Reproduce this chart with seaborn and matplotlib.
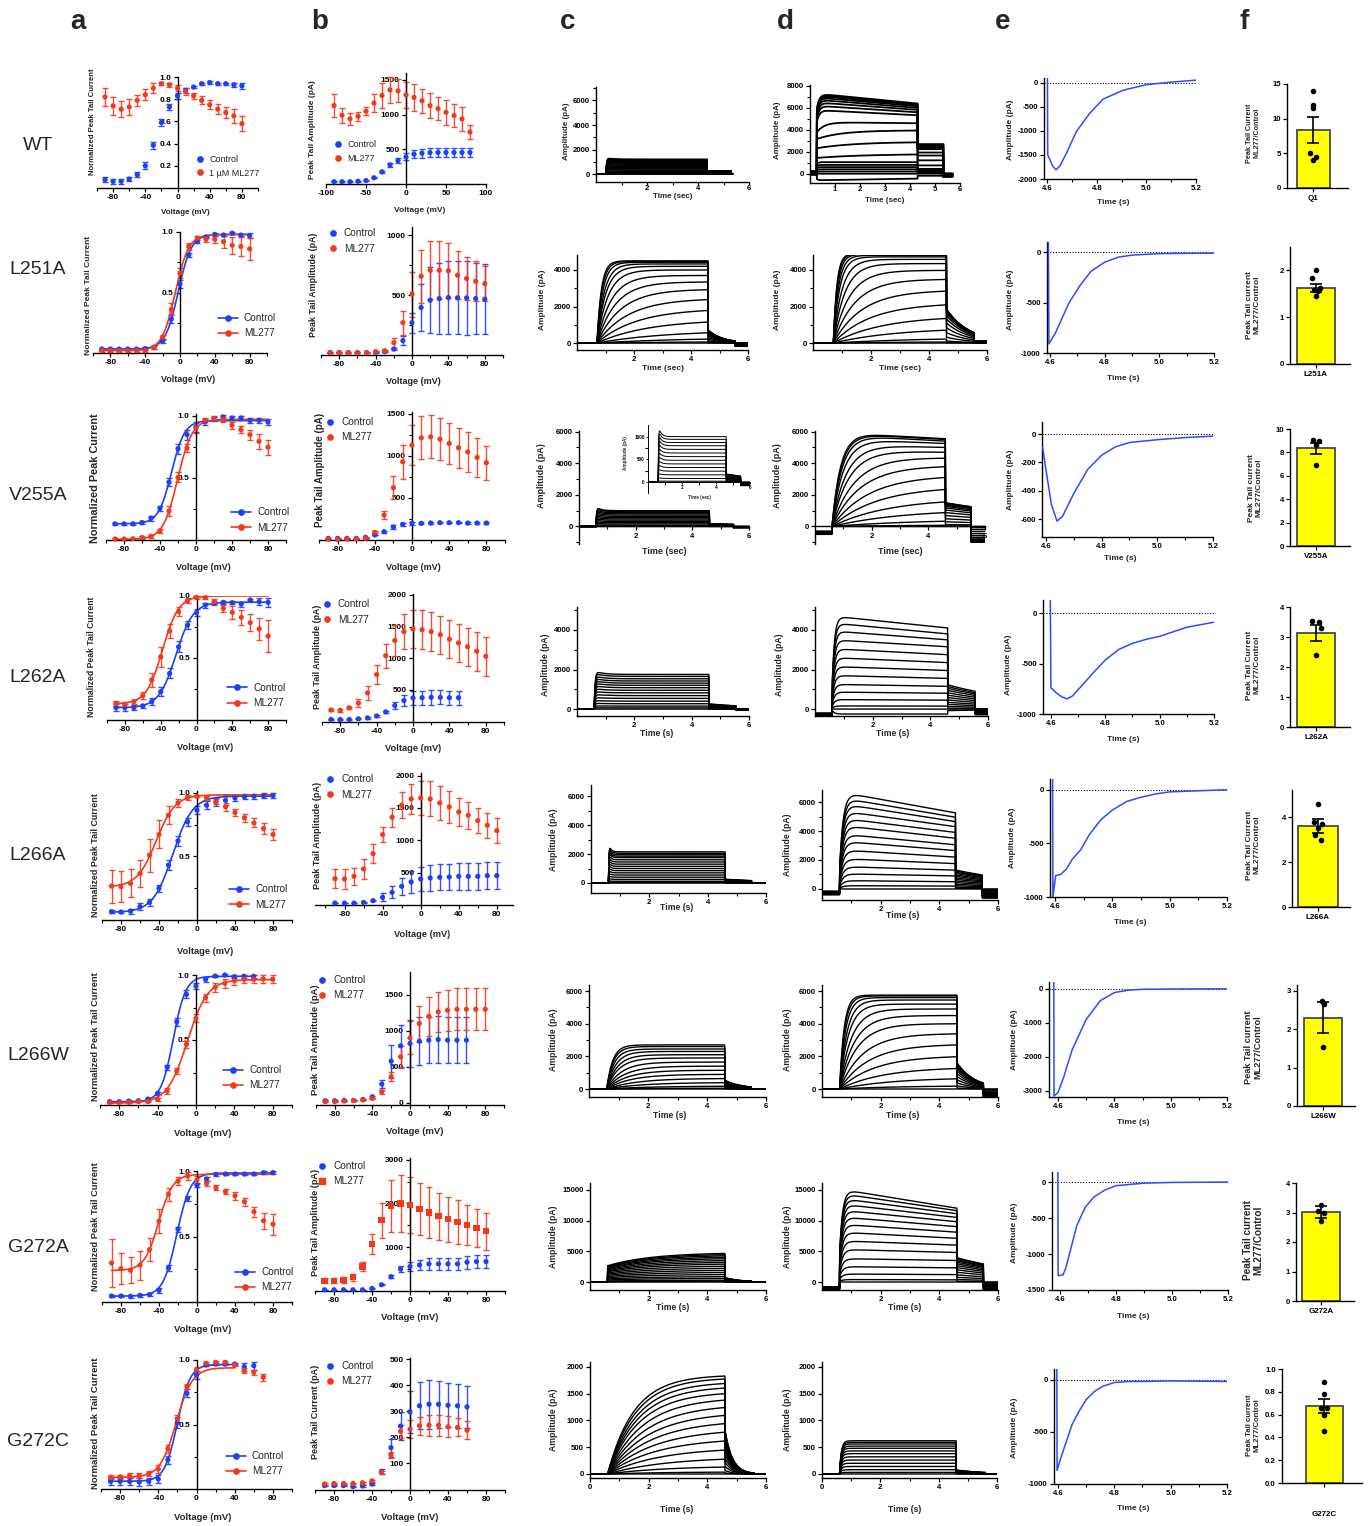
import numpy as np
import matplotlib
matplotlib.use("Agg")
import matplotlib.pyplot as plt
from matplotlib.lines import Line2D
from matplotlib.ticker import FixedLocator, FormatStrFormatter
import seaborn as sns

# ===================== DATA =====================
ROW_NAMES = ["WT", "L251A", "V255A", "L262A", "L266A", "L266W", "G272A", "G272C"]
V18 = [-90, -80, -70, -60, -50, -40, -30, -20, -10, 0, 10, 20, 30, 40, 50, 60, 70, 80]
V17 = V18[:17]
V16 = V18[:16]
V15 = V18[:15]

# ---- column a : normalized peak tail current (mean, SEM) ----
A_WT_C = [0.075, 0.06, 0.06, 0.08, 0.12, 0.20, 0.385, 0.59, 0.73, 0.83, 0.88, 0.91, 0.94, 0.95, 0.94, 0.94, 0.93, 0.92]
A_WT_C_SEM = [0.02, 0.02, 0.02, 0.02, 0.02, 0.03, 0.03, 0.03, 0.03, 0.03, 0.02, 0.01, 0.01, 0.01, 0.01, 0.01, 0.02, 0.03]
A_WT_M = [0.82, 0.74, 0.71, 0.73, 0.79, 0.84, 0.90, 0.94, 0.93, 0.90, 0.87, 0.83, 0.79, 0.75, 0.71, 0.68, 0.65, 0.58]
A_WT_M_SEM = [0.085, 0.08, 0.07, 0.07, 0.05, 0.05, 0.045, 0.015, 0.02, 0.025, 0.03, 0.03, 0.035, 0.04, 0.045, 0.05, 0.06, 0.07]

A_L251A_C = [0.033, 0.033, 0.033, 0.033, 0.033, 0.036, 0.047, 0.10, 0.28, 0.57, 0.81, 0.92, 0.96, 0.98, 0.975, 0.99, 0.975, 0.97]
A_L251A_C_SEM = [0.01, 0.01, 0.01, 0.01, 0.01, 0.01, 0.01, 0.015, 0.03, 0.03, 0.02, 0.015, 0.01, 0.01, 0.01, 0.01, 0.01, 0.02]
A_L251A_M = [0.02, 0.02, 0.02, 0.02, 0.02, 0.02, 0.047, 0.13, 0.36, 0.66, 0.88, 0.95, 0.94, 0.94, 0.92, 0.89, 0.88, 0.86]
A_L251A_M_SEM = [0.01, 0.01, 0.01, 0.01, 0.01, 0.01, 0.01, 0.02, 0.05, 0.04, 0.03, 0.02, 0.02, 0.03, 0.05, 0.07, 0.08, 0.09]

A_V255A_C = [0.13, 0.13, 0.13, 0.14, 0.175, 0.255, 0.465, 0.734, 0.847, 0.909, 0.949, 0.973, 0.989, 0.981, 0.981, 0.962, 0.962, 0.949]
A_V255A_C_SEM = [0.01, 0.01, 0.01, 0.01, 0.02, 0.02, 0.03, 0.04, 0.04, 0.04, 0.025, 0.02, 0.015, 0.015, 0.015, 0.02, 0.02, 0.025]
A_V255A_M = [0.008, 0.008, 0.01, 0.02, 0.03, 0.073, 0.234, 0.503, 0.739, 0.90, 0.962, 0.976, 0.968, 0.922, 0.887, 0.847, 0.793, 0.747]
A_V255A_M_SEM = [0.005, 0.005, 0.005, 0.01, 0.01, 0.015, 0.04, 0.04, 0.03, 0.04, 0.015, 0.015, 0.02, 0.03, 0.03, 0.04, 0.06, 0.06]

A_L262A_C = [0.10, 0.10, 0.10, 0.113, 0.148, 0.228, 0.376, 0.59, 0.766, 0.866, 0.927, 0.946, 0.949, 0.946, 0.935, 0.968, 0.954, 0.949]
A_L262A_C_SEM = [0.03, 0.025, 0.02, 0.02, 0.03, 0.035, 0.04, 0.045, 0.035, 0.03, 0.02, 0.015, 0.01, 0.01, 0.02, 0.01, 0.03, 0.035]
A_L262A_M = [0.134, 0.126, 0.148, 0.196, 0.323, 0.51, 0.718, 0.874, 0.962, 0.989, 0.987, 0.954, 0.90, 0.868, 0.828, 0.785, 0.734, 0.677]
A_L262A_M_SEM = [0.02, 0.02, 0.015, 0.03, 0.055, 0.08, 0.06, 0.035, 0.02, 0.01, 0.01, 0.02, 0.03, 0.05, 0.06, 0.07, 0.09, 0.13]

A_L266A_C = [0.065, 0.063, 0.07, 0.105, 0.139, 0.249, 0.432, 0.623, 0.772, 0.864, 0.903, 0.93, 0.942, 0.96, 0.969, 0.974, 0.976, 0.979]
A_L266A_C_SEM = [0.01, 0.01, 0.02, 0.025, 0.03, 0.03, 0.04, 0.04, 0.03, 0.03, 0.03, 0.03, 0.04, 0.02, 0.02, 0.02, 0.02, 0.02]
A_L266A_M = [0.267, 0.262, 0.288, 0.366, 0.51, 0.673, 0.825, 0.921, 0.963, 0.974, 0.963, 0.929, 0.89, 0.846, 0.804, 0.764, 0.72, 0.673]
A_L266A_M_SEM = [0.13, 0.12, 0.11, 0.11, 0.13, 0.11, 0.07, 0.03, 0.02, 0.01, 0.015, 0.02, 0.03, 0.03, 0.03, 0.035, 0.04, 0.04]

A_L266W_C = [0.026, 0.026, 0.03, 0.033, 0.046, 0.09, 0.29, 0.641, 0.851, 0.915, 0.967, 0.992, 1.0, 0.987, 0.99, 0.99]
A_L266W_C_SEM = [0.005, 0.005, 0.005, 0.005, 0.01, 0.01, 0.02, 0.03, 0.03, 0.025, 0.02, 0.01, 0.01, 0.01, 0.01, 0.01]
A_L266W_M = [0.018, 0.018, 0.02, 0.026, 0.026, 0.044, 0.108, 0.262, 0.467, 0.667, 0.826, 0.905, 0.936, 0.956, 0.967, 0.967, 0.97, 0.967]
A_L266W_M_SEM = [0.005, 0.005, 0.005, 0.005, 0.005, 0.01, 0.02, 0.025, 0.025, 0.03, 0.03, 0.035, 0.035, 0.03, 0.03, 0.03, 0.03, 0.03]

A_G272A_C = [0.046, 0.046, 0.043, 0.051, 0.056, 0.089, 0.26, 0.556, 0.79, 0.893, 0.939, 0.974, 0.977, 0.977, 0.977, 0.977, 0.987, 0.987]
A_G272A_C_SEM = [0.01, 0.01, 0.01, 0.01, 0.01, 0.02, 0.02, 0.02, 0.02, 0.015, 0.015, 0.01, 0.01, 0.01, 0.01, 0.01, 0.01, 0.01]
A_G272A_M = [0.298, 0.255, 0.242, 0.281, 0.40, 0.617, 0.824, 0.923, 0.962, 0.931, 0.906, 0.872, 0.842, 0.811, 0.765, 0.689, 0.62, 0.594]
A_G272A_M_SEM = [0.18, 0.12, 0.10, 0.11, 0.09, 0.09, 0.05, 0.03, 0.03, 0.03, 0.02, 0.02, 0.02, 0.03, 0.03, 0.04, 0.06, 0.08]

A_G272C_C = [0.059, 0.059, 0.059, 0.054, 0.059, 0.077, 0.227, 0.515, 0.742, 0.884, 0.961, 0.969, 0.969, 0.969, 0.948, 0.956]
A_G272C_C_SEM = [0.03, 0.03, 0.03, 0.03, 0.03, 0.03, 0.03, 0.04, 0.03, 0.03, 0.01, 0.01, 0.01, 0.01, 0.03, 0.03]
A_G272C_M = [0.09, 0.093, 0.103, 0.103, 0.119, 0.155, 0.312, 0.541, 0.794, 0.923, 0.974, 0.982, 0.982, 0.961, 0.918, 0.905, 0.866]
A_G272C_M_SEM = [0.015, 0.015, 0.02, 0.02, 0.02, 0.03, 0.03, 0.03, 0.02, 0.02, 0.01, 0.01, 0.01, 0.01, 0.02, 0.02, 0.025]

# Boltzmann fit parameters: bottom, top, V1/2 (mV), slope k (mV)
FIT_L251A_C = [0.033, 0.98, -2.0, 7.5]
FIT_L251A_M = [0.02, 0.98, -5.4, 7.7]
FIT_V255A_C = [0.13, 0.96, -27.2, 7.3]
FIT_V255A_M = [0.005, 0.97, -20.5, 8.1]
FIT_L262A_C = [0.10, 0.95, -23.0, 9.6]
FIT_L262A_M = [0.13, 1.00, -38.0, 9.0]
FIT_L266A_C = [0.06, 0.975, -25.5, 10.5]
FIT_L266A_M = [0.26, 0.985, -43.0, 10.0]
FIT_L266W_C = [0.025, 0.99, -23.7, 6.5]
FIT_L266W_M = [0.015, 0.965, -9.0, 10.5]
FIT_G272A_C = [0.045, 0.985, -21.3, 7.2]
FIT_G272A_M = [0.24, 0.975, -40.4, 7.5]
FIT_G272C_C = [0.06, 0.965, -20.0, 6.7]
FIT_G272C_M = [0.09, 0.94, -21.3, 8.5]

# ---- column b : peak tail amplitude in pA (mean, SEM) ----
B_WT_C = [33, 33, 33, 40, 50, 90, 176, 276, 338, 390, 430, 443, 452, 455, 455, 455, 455, 455]
B_WT_C_SEM = [5, 5, 5, 5, 8, 10, 15, 30, 40, 50, 60, 65, 70, 70, 70, 70, 70, 70]
B_WT_M = [1130, 990, 940, 976, 1048, 1167, 1276, 1357, 1343, 1286, 1248, 1200, 1130, 1086, 1033, 986, 938, 748]
B_WT_M_SEM = [165, 107, 83, 67, 60, 126, 174, 183, 167, 190, 190, 176, 176, 167, 179, 167, 167, 100]

B_L251A_C = [20, 20, 20, 20, 20, 22, 28, 50, 120, 270, 397, 458, 472, 480, 478, 478, 472, 467]
B_L251A_C_SEM = [5, 5, 5, 5, 5, 5, 5, 10, 40, 83, 194, 275, 297, 305, 305, 310, 300, 295]
B_L251A_M = [20, 20, 20, 20, 20, 28, 36, 103, 270, 508, 658, 708, 708, 703, 667, 639, 617, 597]
B_L251A_M_SEM = [5, 5, 5, 5, 5, 5, 8, 42, 100, 190, 222, 243, 243, 230, 200, 180, 167, 146]

B_V255A_C = [20, 20, 20, 20, 32, 60, 99, 154, 186, 198, 198, 202, 206, 206, 206, 202, 202, 202]
B_V255A_C_SEM = [3, 3, 3, 3, 5, 5, 10, 20, 20, 15, 10, 8, 8, 8, 8, 8, 8, 8]
B_V255A_M = [8, 8, 12, 12, 20, 91, 296, 621, 929, 1126, 1213, 1225, 1198, 1146, 1095, 1047, 980, 917]
B_V255A_M_SEM = [3, 3, 3, 3, 5, 10, 50, 134, 200, 237, 257, 257, 247, 243, 237, 237, 227, 200]

B_L262A_C = [30, 30, 30, 40, 55, 85, 150, 250, 330, 370, 375, 380, 380, 375, 375]
B_L262A_C_SEM = [10, 10, 10, 10, 10, 15, 20, 60, 90, 110, 110, 115, 110, 110, 110]
B_L262A_M = [180, 175, 215, 290, 450, 740, 1040, 1280, 1420, 1460, 1450, 1420, 1370, 1300, 1240, 1180, 1110, 1030]
B_L262A_M_SEM = [20, 20, 20, 60, 110, 150, 190, 250, 280, 300, 310, 310, 300, 300, 300, 300, 310, 310]

B_L266A_C = [30, 30, 30, 40, 67, 118, 196, 289, 356, 402, 418, 428, 433, 443, 443, 443, 454, 454]
B_L266A_C_SEM = [5, 5, 5, 5, 10, 60, 90, 127, 165, 190, 200, 203, 205, 205, 205, 205, 205, 205]
B_L266A_M = [407, 402, 443, 557, 794, 1088, 1356, 1541, 1639, 1655, 1639, 1577, 1515, 1438, 1387, 1304, 1232, 1150]
B_L266A_M_SEM = [150, 150, 130, 150, 150, 120, 150, 200, 230, 260, 270, 260, 240, 220, 210, 190, 190, 190]

B_L266W_C = [28, 28, 32, 32, 46, 83, 258, 577, 789, 822, 854, 868, 877, 868, 868, 868]
B_L266W_C_SEM = [5, 5, 5, 5, 8, 15, 60, 230, 290, 323, 335, 323, 323, 323, 323, 323]
B_L266W_M = [14, 14, 23, 28, 37, 60, 152, 360, 637, 900, 1099, 1200, 1260, 1283, 1297, 1297, 1297, 1297]
B_L266W_M_SEM = [3, 3, 5, 5, 5, 10, 30, 60, 150, 230, 250, 270, 280, 285, 290, 290, 290, 290]

B_G272A_C = [23, 23, 23, 23, 23, 54, 138, 323, 500, 554, 592, 615, 615, 615, 615, 654, 669, 669]
B_G272A_C_SEM = [5, 5, 5, 5, 5, 10, 15, 30, 60, 100, 115, 130, 130, 130, 130, 150, 150, 150]
B_G272A_M = [231, 231, 246, 308, 554, 1077, 1615, 1946, 2000, 1962, 1869, 1792, 1708, 1638, 1577, 1515, 1438, 1362]
B_G272A_M_SEM = [60, 60, 60, 80, 100, 230, 400, 600, 650, 650, 600, 580, 540, 520, 500, 460, 440, 430]

B_G272C_C = [14, 14, 14, 10, 13, 20, 68, 160, 243, 298, 321, 327, 327, 323, 321, 317]
B_G272C_C_SEM = [3, 3, 3, 3, 3, 3, 8, 35, 55, 80, 90, 95, 90, 85, 85, 82]
B_G272C_M = [20, 22, 22, 22, 25, 32, 65, 132, 223, 231, 244, 246, 246, 240, 238, 227]
B_G272C_M_SEM = [3, 3, 3, 3, 3, 3, 5, 12, 25, 35, 35, 40, 40, 40, 35, 35]

# ---- columns c / d : current sweeps (end-of-step amplitude pA, peak pA, activation tau s) ----
C_WT_AMP = [1200, 1150, 1100, 1050, 1000, 940, 880, 800, 710, 620, 520, 420, 320, 220, 130, 60, 20, 0]
D_WT_AMP = [6400, 6330, 6250, 6150, 6000, 5820, 5600, 5330, 4600, 3950, 2900, 1800, 1050, 800, 600, 400, 200, 0, -450]
D_WT_PEAK = [7300, 7200, 7100, 6950, 6750, 6500, 6200, 5800, 4700, 3950, 2900, 1800, 1050, 800, 600, 400, 200, 0, -600]
D_WT_TAU = [0.1, 0.1, 0.1, 0.1, 0.1, 0.1, 0.1, 0.1, 0.3, 1.0, 1.5, 2.0, 0.05, 0.05, 0.05, 0.05, 0.05, 0.05, 0.05]

C_L251A_AMP = [4500, 4470, 4420, 4330, 4200, 4000, 3700, 3350, 2950, 2450, 1900, 1300, 700, 300, 80, 0]
C_L251A_TAU = [0.15, 0.17, 0.2, 0.25, 0.3, 0.38, 0.5, 0.65, 0.85, 1.1, 1.4, 1.8, 2.4, 3.0, 3.0, 3.0]
D_L251A_AMP = [4900, 4880, 4850, 4800, 4720, 4580, 4350, 3980, 3500, 2900, 2200, 1500, 850, 300, 80, 0]
D_L251A_TAU = [0.12, 0.13, 0.15, 0.18, 0.22, 0.3, 0.4, 0.55, 0.75, 1.0, 1.3, 1.7, 2.2, 3.0, 3.0, 3.0]

C_V255A_AMP = [1000, 940, 870, 800, 720, 640, 560, 480, 400, 320, 240, 160, 80, 20, 0]
D_V255A_AMP = [5550, 5500, 5400, 5250, 5000, 4700, 4350, 3850, 3250, 2550, 1800, 1100, 450, 100, 0]
D_V255A_PEAK = [5950, 5900, 5800, 5550, 5200, 4850, 4400, 3850, 3250, 2550, 1800, 1100, 450, 100, 0]
D_V255A_TAU = [0.3, 0.32, 0.35, 0.4, 0.5, 0.6, 0.8, 1.0, 1.3, 1.6, 2.0, 2.5, 3.0, 3.0, 3.0]

C_L262A_AMP = [1750, 1650, 1530, 1420, 1310, 1200, 1080, 950, 820, 680, 540, 400, 270, 150, 60, 0]
D_L262A_AMP = [4100, 3800, 3500, 3150, 2750, 2350, 1950, 1550, 1150, 800, 450, 150, 0, -250]
D_L262A_PEAK = [4700, 4350, 3950, 3500, 3050, 2600, 2150, 1700, 1250, 860, 480, 160, 0, -250]

C_L266A_AMP = [2150, 2050, 1950, 1850, 1750, 1600, 1450, 1300, 1150, 1000, 850, 700, 550, 400, 250, 120, 30, 0]
D_L266A_AMP = [5250, 4950, 4650, 4300, 3900, 3500, 3050, 2650, 2200, 1750, 1300, 900, 500, 200, 0]
D_L266A_PEAK = [6700, 6300, 5900, 5400, 4900, 4400, 3800, 3300, 2700, 2100, 1550, 1050, 580, 230, 0]

C_L266W_AMP = [2700, 2600, 2450, 2300, 2100, 1900, 1650, 1400, 1150, 900, 650, 400, 180, 50, 0]
C_L266W_TAU = [0.2, 0.22, 0.25, 0.3, 0.35, 0.4, 0.5, 0.6, 0.7, 0.8, 1.0, 1.2, 1.5, 1.5, 1.5]
D_L266W_AMP = [5750, 5700, 5600, 5450, 5200, 4900, 4500, 4000, 3400, 2750, 2050, 1350, 700, 200, 0]
D_L266W_TAU = [0.15, 0.17, 0.2, 0.25, 0.3, 0.4, 0.5, 0.6, 0.8, 1.0, 1.2, 1.5, 1.8, 2.0, 2.0]

C_G272A_AMP = [4800, 4600, 4400, 4150, 3900, 3600, 3300, 3000, 2650, 2300, 1950, 1600, 1250, 900, 600, 300, 100, 0]
D_G272A_AMP = [12000, 11600, 11100, 10500, 9800, 9000, 8100, 7100, 6000, 4800, 3500, 2300, 1200, 350, 0]
D_G272A_PEAK = [15100, 14400, 13600, 12700, 11700, 10600, 9400, 8100, 6700, 5300, 3800, 2500, 1300, 400, 0]

C_G272C_AMP = [1850, 1800, 1720, 1640, 1540, 1430, 1300, 1160, 1010, 850, 680, 500, 320, 150, 40, 0]
C_G272C_TAU = [0.9, 0.95, 1.0, 1.05, 1.1, 1.2, 1.3, 1.4, 1.5, 1.6, 1.7, 1.8, 2.0, 2.0, 2.0, 2.0]
D_G272C_AMP = [620, 590, 560, 520, 480, 430, 380, 320, 260, 200, 140, 80, 30, 0]

# ---- column e : tail current traces (time s, amplitude pA) ----
E_WT_T = [4.600, 4.601, 4.61, 4.62, 4.634, 4.65, 4.677, 4.717, 4.771, 4.825, 4.906, 5.0, 5.094, 5.2]
E_WT_Y = [104, -1500, -1600, -1720, -1810, -1730, -1460, -1010, -630, -335, -150, -35, 15, 60]
E_L251A_T = [4.594, 4.596, 4.62, 4.64, 4.67, 4.71, 4.75, 4.80, 4.85, 4.90, 5.0, 5.2]
E_L251A_Y = [100, -910, -800, -680, -500, -330, -190, -100, -50, -30, -15, -10]
E_V255A_T = [4.588, 4.60, 4.62, 4.64, 4.66, 4.70, 4.75, 4.80, 4.85, 4.90, 5.0, 5.1, 5.2]
E_V255A_Y = [-90, -250, -500, -615, -580, -420, -250, -150, -90, -60, -40, -25, -15]
E_L262A_T = [4.598, 4.600, 4.62, 4.64, 4.66, 4.68, 4.72, 4.76, 4.80, 4.85, 4.90, 4.95, 5.0, 5.1, 5.2]
E_L262A_Y = [130, -740, -790, -830, -850, -820, -700, -580, -465, -360, -300, -260, -230, -140, -90]
E_L266A_T = [4.592, 4.593, 4.603, 4.62, 4.64, 4.66, 4.69, 4.72, 4.76, 4.80, 4.85, 4.90, 4.95, 5.0, 5.1, 5.2]
E_L266A_Y = [100, -1000, -800, -790, -740, -650, -560, -420, -280, -190, -110, -70, -40, -20, -10, 0]
E_L266W_T = [4.585, 4.586, 4.60, 4.62, 4.65, 4.70, 4.75, 4.80, 4.85, 4.90, 5.0, 5.2]
E_L266W_Y = [200, -3150, -3050, -2600, -1800, -900, -350, -110, -40, -15, -5, 0]
E_G272A_T = [4.592, 4.593, 4.61, 4.62, 4.64, 4.66, 4.69, 4.72, 4.76, 4.80, 4.90, 5.0, 5.2]
E_G272A_Y = [140, -1300, -1290, -1200, -900, -600, -350, -210, -110, -50, -15, -5, 0]
E_G272C_T = [4.596, 4.597, 4.61, 4.63, 4.65, 4.675, 4.70, 4.73, 4.76, 4.80, 4.85, 4.90, 5.0, 5.1, 5.2]
E_G272C_Y = [105, -870, -750, -590, -430, -300, -190, -110, -60, -25, -15, -15, -10, -12, -15]

# ---- column f : ML277/Control ratio (mean, SEM, individual cells) ----
F_LABELS = ["Q1", "L251A", "V255A", "L262A", "L266A", "L266W", "G272A", "G272C"]
F_MEAN = [8.4, 1.62, 8.35, 3.13, 3.6, 2.3, 3.02, 0.675]
F_SEM = [1.85, 0.08, 0.45, 0.27, 0.3, 0.4, 0.2, 0.06]
F_PTS_WT = [14.0, 11.9, 11.5, 5.0, 4.5, 4.0]
F_PTS_L251A = [2.0, 1.83, 1.62, 1.58, 1.55, 1.45]
F_PTS_V255A = [9.1, 9.0, 8.6, 6.9]
F_PTS_L262A = [3.52, 3.5, 3.3, 2.4]
F_PTS_L266A = [4.6, 3.8, 3.7, 3.5, 3.2, 3.0]
F_PTS_L266W = [2.74, 2.65, 1.54]
F_PTS_G272A = [3.25, 3.05, 3.0, 2.7]
F_PTS_G272C = [0.885, 0.78, 0.66, 0.655, 0.6, 0.455]

# ===================== STYLE / LAYOUT =====================
sns.set_theme(style="ticks")
plt.rcParams["font.family"] = ["Liberation Sans", "DejaVu Sans"]
plt.rcParams["axes.unicode_minus"] = False
plt.rcParams["font.weight"] = "bold"

BLUE = "#1f3ff5"
RED = "#f2391c"
TRACE_BLUE = "#2b4cff"
W, H = 1368, 1526
fig = plt.figure(figsize=(W / 100, H / 100), dpi=100)
fig.patch.set_facecolor("white")


def add_box(b):
    x0, y0, x1, y1 = b
    return fig.add_axes([x0 / W, 1 - y1 / H, (x1 - x0) / W, (y1 - y0) / H])


def ftxt(x, y, s, **kw):
    kw.setdefault("ha", "center")
    kw.setdefault("va", "center")
    fig.text(x / W, 1 - y / H, s, **kw)


def style(ax, center=False, ls=6.0):
    for s in ["top", "right"]:
        ax.spines[s].set_visible(False)
    for s in ["left", "bottom"]:
        ax.spines[s].set_linewidth(1.0)
        ax.spines[s].set_color("black")
    if center:
        ax.spines["left"].set_position(("data", 0))
    ax.tick_params(axis="both", which="major", direction="out", length=3, width=0.9,
                   labelsize=ls, pad=1.5, colors="black")
    ax.tick_params(axis="both", which="minor", direction="out", length=2, width=0.8, colors="black")
    ax.patch.set_alpha(0)
    ax.set_xlabel("")
    ax.set_ylabel("")


def set_ticks(ax, axis, major, minor=None, fmt=None):
    a = ax.xaxis if axis == "x" else ax.yaxis
    a.set_major_locator(FixedLocator(major))
    if minor is not None:
        a.set_minor_locator(FixedLocator(minor))
    if fmt:
        a.set_major_formatter(FormatStrFormatter(fmt))


def errbars(ax, x, y, e, color, cap=2.2):
    cont = ax.errorbar(x, y, yerr=e, fmt="none", ecolor=color, elinewidth=1.0,
                       capsize=cap, capthick=1.0, zorder=2, alpha=0.9)
    for art in list(cont.lines[1]) + list(cont.lines[2]):
        art.set_clip_on(False)


def boltz(v, p):
    b, t, v50, k = p
    v = np.asarray(v, float)
    return b + (t - b) / (1 + np.exp((v50 - v) / k))


def legend(ax, handles, labels, x, y, fs=7.2, hl=1.0, sp=0.45):
    ax.legend(handles, labels, loc="upper left", bbox_to_anchor=(x / W, 1 - y / H),
              bbox_transform=fig.transFigure, frameon=False, borderpad=0, borderaxespad=0,
              handlelength=hl, handletextpad=0.6, labelspacing=sp,
              prop={"size": fs, "weight": "normal"})


def sweep(t, A, P, tau, s, pre):
    on, off, end = s["on"], s["off"], s["end"]
    inst = s.get("inst", 0.0)
    y = np.full_like(t, pre, dtype=float)
    m = (t >= on) & (t < off)
    x = t[m] - on
    act = inst + (1 - inst) * (1 - np.exp(-x / tau))
    it = s.get("itau")
    if it:
        env = A + (P - A) * np.exp(-x / it)
    else:
        env = P + (A - P) * x / (off - on)
    y[m] = act * env
    m2 = (t >= off) & (t < end)
    y[m2] = s.get("tail", 0.0) * A * np.exp(-(t[m2] - off) / s.get("ttau", 1e9))
    m3 = t >= end
    y[m3] = s.get("post", 0.0) * A
    return y


def draw_traces(ax, amps, s, peaks=None, taus=0.03, lw=1.0):
    t = np.linspace(0, s.get("tmax", 6.0), 1800)
    n = len(amps)
    plo, phi = s.get("pre", (0, 0))
    for i, A in enumerate(amps):
        P = peaks[i] if peaks is not None else A * s.get("pk", 1.0)
        tau = taus[i] if np.ndim(taus) else taus
        pre = plo + (phi - plo) * i / max(n - 1, 1)
        y = sweep(t, A, P, tau, s, pre)
        ax.plot(t, y, color="black", lw=lw, solid_joinstyle="miter")


# ---------- row layout ----------
ROWS = [
    dict(name="WT", lab_y=145,
         a=dict(box=(97, 77, 258, 188), ylim=(0, 1.0), vc=V18, c=A_WT_C, ce=A_WT_C_SEM, vm=V18, m=A_WT_M,
                me=A_WT_M_SEM, fc=None, fm=None, ymaj=[0.2, 0.4, 0.6, 0.8, 1.0], ymin=None,
                ylabel="Normalized Peak Tail Current", yl=(92, 122, 5.6), xl=(185, 213, 5.8),
                leg=(195, 155), labels=("Control", "1 µM ML277"), legfs=6.5),
         b=dict(box=(326, 73, 486, 184), xlim=(-100, 100), ylim=(0, 1600), vc=V18, c=B_WT_C, ce=B_WT_C_SEM,
                vm=V18, m=B_WT_M, me=B_WT_M_SEM, xmaj=[-100, -50, 0, 50, 100], xmin=None,
                ymaj=[500, 1000, 1500], ymin=None, ylabel="Peak Tail Amplitude (pA)", yl=(313, 130, 6.0),
                xl=(420, 211, 6.0), leg=(333, 140), legfs=6.5),
         c=dict(box=(596, 87, 749, 182), ylim=(-650, 7100), ymaj=[0, 2000, 4000, 6000], ymin=[1000, 3000, 5000, 7000],
                xmaj=[2, 4, 6], xmin=[1, 3, 5], yl=(567, 131, 5.8), xl=(673, 197, 5.8), xlab="Time (sec)",
                amps=C_WT_AMP, shape=dict(on=0.4, off=4.35, end=5.3, tmax=5.35, pk=1.08, itau=0.3, tail=0.2),
                taus=0.02, lw=1.2, xpad=0.5),
         d=dict(box=(810, 85, 960, 183), ylim=(-850, 8090), ymaj=[0, 2000, 4000, 6000, 8000],
                ymin=[1000, 3000, 5000, 7000], xmaj=[1, 2, 3, 4, 5, 6], xmin=None, yl=(778, 130, 5.8),
                xl=(885, 200, 5.8), xlab="Time (sec)", amps=D_WT_AMP, peaks=D_WT_PEAK, taus=D_WT_TAU,
                shape=dict(on=0.27, off=4.3, end=5.33, tmax=5.7, inst=0.8, tail=0.42, post=-0.04,
                           pre=(-100, 250)), lw=1.3, xpad=0.5),
         e=dict(box=(1044, 78, 1196, 179), xlim=(4.586, 5.2), ylim=(-2000, 104),
                ymaj=[0, -500, -1000, -1500, -2000], T=E_WT_T, Y=E_WT_Y, yl=(1010, 130, 6.0), xl=(1113, 202, 6.0)),
         f=dict(box=(1287, 84, 1348, 188), bar=(1313, 33), ylim=(0, 15), ymaj=[0, 5, 10, 15], fmt="%d",
                pts=F_PTS_WT, off=[0, 0, 0, -0.06, 0.06, 0], ylabel="Peak Tail Current\nML277/Control",
                yl=(1253, 133, 5.2), pad=2)),
    dict(name="L251A", lab_y=270,
         a=dict(box=(93, 232, 267, 353), ylim=(0, 1.0), vc=V18, c=A_L251A_C, ce=A_L251A_C_SEM, vm=V18,
                m=A_L251A_M, me=A_L251A_M_SEM, fc=FIT_L251A_C, fm=FIT_L251A_M,
                ylabel="Normalized Peak Tail Current", yl=(88, 295, 6.1), xl=(188, 380, 6.4),
                leg=(218, 313)),
         b=dict(box=(321, 227, 503, 355), xlim=(-100, 100), ylim=(0, 1070), vc=V18, c=B_L251A_C,
                ce=B_L251A_C_SEM, vm=V18, m=B_L251A_M, me=B_L251A_M_SEM, ymaj=[500, 1000], ymin=[250, 750],
                ylabel="Peak Tail Amplitude (pA)", yl=(313, 285, 6.4), xl=(413, 381, 6.5), leg=(328, 228)),
         c=dict(box=(577, 255, 748, 350), ylim=(-380, 4820), ymaj=[0, 2000, 4000], ymin=[1000, 3000],
                xmaj=[2, 4, 6], xmin=[1, 3, 5], yl=(542, 300, 6.0), xl=(663, 369, 6.0), xlab="Time (sec)",
                amps=C_L251A_AMP, taus=C_L251A_TAU,
                shape=dict(on=0.7, off=4.6, end=5.55, tail=0.16, ttau=0.5, post=-0.04)),
         d=dict(box=(813, 255, 987, 350), ylim=(-380, 4820), ymaj=[0, 2000, 4000], ymin=[1000, 3000],
                xmaj=[2, 4, 6], xmin=[1, 3, 5], yl=(778, 300, 6.0), xl=(900, 369, 6.0), xlab="Time (sec)",
                amps=D_L251A_AMP, taus=D_L251A_TAU,
                shape=dict(on=0.7, off=4.6, end=5.55, tail=0.38, ttau=0.8, post=0.02)),
         e=dict(box=(1047, 242, 1214, 353), xlim=(4.589, 5.2), ylim=(-1000, 100), ymaj=[0, -500, -1000],
                T=E_L251A_T, Y=E_L251A_Y, yl=(1010, 300, 6.0), xl=(1123, 379, 6.0)),
         f=dict(box=(1290, 247, 1350, 364), bar=(1316, 38), ylim=(0, 2.5), ymaj=[0, 1, 2], fmt="%d",
                pts=F_PTS_L251A, off=[0, -0.06, 0.06, -0.03, 0.03, 0],
                ylabel="Peak Tail current\nML277/Control", yl=(1253, 305, 6.0), pad=2)),
    dict(name="V255A", lab_y=495,
         a=dict(box=(106, 414, 286, 540), ylim=(0, 1.013), vc=V18, c=A_V255A_C, ce=A_V255A_C_SEM, vm=V18,
                m=A_V255A_M, me=A_V255A_M_SEM, fc=FIT_V255A_C, fm=FIT_V255A_M,
                ylabel="Normalized Peak Current", yl=(95, 478, 7.8), xl=(203, 568, 6.5), leg=(231, 507)),
         b=dict(box=(319, 412, 505, 540), xlim=(-100, 100), ylim=(0, 1520), vc=V18, c=B_V255A_C,
                ce=B_V255A_C_SEM, vm=V18, m=B_V255A_M, me=B_V255A_M_SEM, ymaj=[500, 1000, 1500],
                ymin=[250, 750, 1250], ylabel="Peak Tail Amplitude (pA)", yl=(320, 470, 7.0),
                xl=(413, 568, 6.5), leg=(325, 417)),
         c=dict(box=(579, 431, 749, 544), ylim=(-1110, 6040), ymaj=[0, 2000, 4000, 6000],
                ymin=[-1000, 1000, 3000, 5000], xmaj=[2, 4, 6], xmin=[1, 3, 5], yl=(542, 476, 6.5),
                xl=(664, 551, 6.5), xlab="Time (sec)", amps=C_V255A_AMP, taus=0.02, xzero=True,
                shape=dict(on=0.6, off=4.6, end=5.45, pk=1.25, itau=0.15, tail=0.18, ttau=3, post=-0.08),
                inset=dict(box=(648, 425, 750, 493), ylim=(-240, 1256))),
         d=dict(box=(815, 431, 985, 544), ylim=(-1110, 6040), ymaj=[0, 2000, 4000, 6000],
                ymin=[-1000, 1000, 3000, 5000], xmaj=[2, 4, 6], xmin=[1, 3, 5], yl=(778, 476, 6.5),
                xl=(900, 551, 6.5), xlab="Time (sec)", amps=D_V255A_AMP, peaks=D_V255A_PEAK,
                taus=D_V255A_TAU, xzero=True,
                shape=dict(on=0.6, off=4.6, end=5.5, tail=0.27, ttau=5, post=-0.18, pre=(-500, -300))),
         e=dict(box=(1042, 422, 1213, 537), xlim=(4.586, 5.2), ylim=(-727, 85), ymaj=[0, -200, -400, -600],
                T=E_V255A_T, Y=E_V255A_Y, yl=(1010, 480, 6.0), xl=(1120, 558, 6.0)),
         f=dict(box=(1290, 429, 1350, 546), bar=(1316, 38), ylim=(0, 10), ymaj=[0, 2, 4, 6, 8, 10], fmt="%d",
                pts=F_PTS_V255A, off=[-0.05, 0.05, 0, 0], ylabel="Peak Tail current\nML277/Control",
                yl=(1255, 488, 6.0), pad=2)),
    dict(name="L262A", lab_y=677,
         a=dict(box=(107, 596, 286, 720), ylim=(0, 1.0), vc=V18, c=A_L262A_C, ce=A_L262A_C_SEM, vm=V18,
                m=A_L262A_M, me=A_L262A_M_SEM, fc=FIT_L262A_C, fm=FIT_L262A_M,
                ylabel="Normalized Peak Tail Current", yl=(92, 657, 6.2), xl=(205, 747, 6.7), leg=(227, 683)),
         b=dict(box=(322, 594, 504, 722), xlim=(-100, 100), ylim=(-10, 2015), vc=V15, c=B_L262A_C,
                ce=B_L262A_C_SEM, vm=V18, m=B_L262A_M, me=B_L262A_M_SEM, ymaj=[500, 1000, 1500, 2000],
                ymin=None, ylabel="Peak Tail Amplitude (pA)", yl=(318, 657, 6.4), xl=(413, 748, 6.7),
                leg=(322, 599)),
         c=dict(box=(577, 607, 749, 716), ylim=(-350, 5160), ymaj=[0, 2000, 4000], ymin=[1000, 3000, 5000],
                xmaj=[2, 4, 6], xmin=[1, 3, 5], yl=(545, 665, 6.2), xl=(657, 734, 6.2), xlab="Time (s)",
                amps=C_L262A_AMP, taus=0.03,
                shape=dict(on=0.6, off=4.6, end=5.55, pk=1.1, itau=0.3, tail=0.15, ttau=2, post=-0.03)),
         d=dict(box=(815, 607, 988, 716), ylim=(-350, 5160), ymaj=[0, 2000, 4000], ymin=[1000, 3000, 5000],
                xmaj=[2, 4, 6], xmin=[1, 3, 5], yl=(780, 665, 6.2), xl=(893, 734, 6.2), xlab="Time (s)",
                amps=D_L262A_AMP, peaks=D_L262A_PEAK, taus=0.08,
                shape=dict(on=0.6, off=4.6, end=5.55, inst=0.3, tail=0.3, ttau=3, post=-0.07,
                           pre=(-400, -200))),
         e=dict(box=(1043, 600, 1214, 714), xlim=(4.571, 5.2), ylim=(-1000, 130), ymaj=[0, -500, -1000],
                T=E_L262A_T, Y=E_L262A_Y, yl=(1008, 665, 6.0), xl=(1123, 740, 6.0)),
         f=dict(box=(1290, 607, 1350, 727), bar=(1316, 38), ylim=(0, 4), ymaj=[0, 1, 2, 3, 4], fmt="%d",
                pts=F_PTS_L262A, off=[-0.06, 0.04, 0.08, 0], ylabel="Peak Tail Current\nML277/Control",
                yl=(1253, 665, 6.0), pad=2)),
    dict(name="L266A", lab_y=855,
         a=dict(box=(102, 791, 292, 920), ylim=(0, 1.015), vc=V18, c=A_L266A_C, ce=A_L266A_C_SEM, vm=V18,
                m=A_L266A_M, me=A_L266A_M_SEM, fc=FIT_L266A_C, fm=FIT_L266A_M,
                ylabel="Normalized Peak Tail Current", yl=(95, 855, 6.4), xl=(205, 951, 6.7), leg=(229, 884)),
         b=dict(box=(315, 773, 513, 905), xlim=(-111, 97), ylim=(0, 2040), vc=V18, c=B_L266A_C,
                ce=B_L266A_C_SEM, vm=V18, m=B_L266A_M, me=B_L266A_M_SEM, ymaj=[500, 1000, 1500, 2000],
                ymin=None, ylabel="Peak Tail Amplitude (pA)", yl=(318, 835, 6.6), xl=(422, 934, 6.7),
                leg=(325, 774)),
         c=dict(box=(591, 785, 766, 893), ylim=(-690, 6760), ymaj=[0, 2000, 4000, 6000],
                ymin=[1000, 3000, 5000], xmaj=[2, 4, 6], xmin=[1, 3, 5], yl=(553, 840, 6.2),
                xl=(677, 908, 6.2), xlab="Time (s)", amps=C_L266A_AMP, taus=0.015,
                shape=dict(on=0.6, off=4.6, end=5.5, pk=1.35, itau=0.06, tail=0.12, ttau=2)),
         d=dict(box=(822, 790, 998, 900), ylim=(-760, 6830), ymaj=[0, 2000, 4000, 6000],
                ymin=[1000, 3000, 5000], xmaj=[2, 4, 6], xmin=[1, 3, 5], yl=(787, 845, 6.2),
                xl=(903, 915, 6.2), xlab="Time (s)", amps=D_L266A_AMP, peaks=D_L266A_PEAK, taus=0.12,
                shape=dict(on=0.6, off=4.55, end=5.46, inst=0.2, tail=0.25, ttau=3, post=-0.12,
                           pre=(-400, -150))),
         e=dict(box=(1050, 779, 1227, 897), xlim=(4.583, 5.2), ylim=(-1000, 100), ymaj=[0, -500, -1000],
                T=E_L266A_T, Y=E_L266A_Y, yl=(1013, 838, 6.0), xl=(1130, 923, 6.0)),
         f=dict(box=(1292, 790, 1350, 907), bar=(1318, 40), ylim=(0, 5.2), ymaj=[0, 2, 4], fmt="%d",
                pts=F_PTS_L266A, off=[0, -0.06, 0.06, 0, -0.04, 0.04],
                ylabel="Peak Tail Current\nML277/Control", yl=(1253, 845, 6.0), pad=2)),
    dict(name="L266W", lab_y=1055,
         a=dict(box=(100, 975, 292, 1105), ylim=(0, 1.0), vc=V16, c=A_L266W_C, ce=A_L266W_C_SEM, vm=V18,
                m=A_L266W_M, me=A_L266W_M_SEM, fc=FIT_L266W_C, fm=FIT_L266W_M,
                ylabel="Normalized Peak Tail Current", yl=(95, 1037, 6.7), xl=(203, 1134, 6.8),
                leg=(223, 1065)),
         b=dict(box=(316, 972, 504, 1105), xlim=(-100, 100), ylim=(-32, 1814), vc=V16, c=B_L266W_C,
                ce=B_L266W_C_SEM, vm=V18, m=B_L266W_M, me=B_L266W_M_SEM, ymaj=[0, 500, 1000, 1500],
                ymin=None, ylabel="Peak Tail Amplitude (pA)", yl=(316, 1040, 6.8), xl=(415, 1131, 6.8),
                leg=(317, 975)),
         c=dict(box=(589, 985, 766, 1097), ylim=(-490, 6370), ymaj=[0, 2000, 4000, 6000],
                ymin=[1000, 3000, 5000], xmaj=[2, 4, 6], xmin=[1, 3, 5], yl=(553, 1040, 6.2),
                xl=(670, 1115, 6.2), xlab="Time (s)", amps=C_L266W_AMP, taus=C_L266W_TAU,
                shape=dict(on=0.6, off=4.6, end=5.5, tail=0.2, ttau=0.6)),
         d=dict(box=(822, 985, 998, 1097), ylim=(-490, 6370), ymaj=[0, 2000, 4000, 6000],
                ymin=[1000, 3000, 5000], xmaj=[2, 4, 6], xmin=[1, 3, 5], yl=(787, 1040, 6.2),
                xl=(903, 1115, 6.2), xlab="Time (s)", amps=D_L266W_AMP, taus=D_L266W_TAU,
                shape=dict(on=0.6, off=4.6, end=5.5, tail=0.28, ttau=0.6, post=-0.1)),
         e=dict(box=(1049, 982, 1227, 1097), xlim=(4.568, 5.2), ylim=(-3180, 200),
                ymaj=[0, -1000, -2000, -3000], T=E_L266W_T, Y=E_L266W_Y, yl=(1015, 1040, 6.0),
                xl=(1133, 1123, 6.0)),
         f=dict(box=(1297, 985, 1355, 1106), bar=(1323, 38), ylim=(0, 3.15), ymaj=[0, 1, 2, 3], fmt="%d",
                pts=F_PTS_L266W, off=[-0.02, 0.02, 0], ylabel="Peak Tail current\nML277/Control",
                yl=(1253, 1047, 6.6), pad=2)),
    dict(name="G272A", lab_y=1248,
         a=dict(box=(102, 1171, 292, 1302), ylim=(0, 1.0), vc=V18, c=A_G272A_C, ce=A_G272A_C_SEM, vm=V18,
                m=A_G272A_M, me=A_G272A_M_SEM, fc=FIT_G272A_C, fm=FIT_G272A_M,
                ylabel="Normalized Peak Tail Current", yl=(95, 1227, 6.7), xl=(203, 1330, 6.8),
                leg=(235, 1267)),
         b=dict(box=(315, 1158, 505, 1291), xlim=(-100, 100), ylim=(-5, 3040), vc=V18, c=B_G272A_C,
                ce=B_G272A_C_SEM, vm=V18, m=B_G272A_M, me=B_G272A_M_SEM, ymaj=[1000, 2000, 3000],
                ymin=[500, 1500, 2500], ylabel="Peak Tail Amplitude (pA)", yl=(316, 1222, 6.6),
                xl=(410, 1318, 6.8), leg=(317, 1161), square=True),
         c=dict(box=(590, 1183, 766, 1290), ylim=(-1300, 16100), ymaj=[0, 5000, 10000, 15000], ymin=None,
                xmaj=[2, 4, 6], xmin=[1, 3, 5], yl=(553, 1237, 6.2), xl=(673, 1307, 6.2), xlab="Time (s)",
                amps=C_G272A_AMP, taus=1.5,
                shape=dict(on=0.6, off=4.6, end=5.5, inst=0.55, tail=0.15, ttau=0.5)),
         d=dict(box=(822, 1183, 998, 1290), ylim=(-1300, 16100), ymaj=[0, 5000, 10000, 15000], ymin=None,
                xmaj=[2, 4, 6], xmin=[1, 3, 5], yl=(787, 1237, 6.2), xl=(905, 1307, 6.2), xlab="Time (s)",
                amps=D_G272A_AMP, peaks=D_G272A_PEAK, taus=0.1,
                shape=dict(on=0.6, off=4.6, end=5.5, inst=0.3, tail=0.33, ttau=3, post=-0.12,
                           pre=(-1200, -800))),
         e=dict(box=(1052, 1172, 1228, 1290), xlim=(4.571, 5.2), ylim=(-1500, 140),
                ymaj=[0, -500, -1000, -1500], T=E_G272A_T, Y=E_G272A_Y, yl=(1015, 1233, 6.0),
                xl=(1133, 1316, 6.0)),
         f=dict(box=(1296, 1183, 1354, 1301), bar=(1321, 38), ylim=(0, 4), ymaj=[0, 1, 2, 3, 4], fmt="%d",
                pts=F_PTS_G272A, off=[0, -0.05, 0.05, 0], ylabel="Peak Tail current\nML277/Control",
                yl=(1253, 1240, 7.2), pad=2)),
    dict(name="G272C", lab_y=1442,
         a=dict(box=(101, 1360, 292, 1489), ylim=(0, 1.0), vc=V16, c=A_G272C_C, ce=A_G272C_C_SEM, vm=V17,
                m=A_G272C_M, me=A_G272C_M_SEM, fc=FIT_G272C_C, fm=FIT_G272C_M, fitmax=40,
                ylabel="Normalized Peak Tail Current", yl=(95, 1423, 6.8), xl=(203, 1518, 6.8),
                leg=(226, 1451)),
         b=dict(box=(315, 1358, 505, 1490), xlim=(-100, 100), ylim=(-3, 505), vc=V16, c=B_G272C_C,
                ce=B_G272C_C_SEM, vm=V16, m=B_G272C_M, me=B_G272C_M_SEM, ymaj=[100, 200, 300, 400, 500],
                ymin=None, ylabel="Peak Tail Current (pA)", yl=(316, 1412, 6.5), xl=(410, 1518, 6.8),
                leg=(325, 1361)),
         c=dict(box=(590, 1362, 766, 1478), ylim=(-75, 2090), ymaj=[0, 500, 1000, 1500, 2000], ymin=None,
                xmaj=[0, 2, 4, 6], xmin=[1, 3, 5], yl=(553, 1420, 6.2), xl=(677, 1510, 6.2), xlab="Time (s)",
                amps=C_G272C_AMP, taus=C_G272C_TAU,
                shape=dict(on=0.6, off=4.6, end=5.6, tail=0.45, ttau=0.25)),
         d=dict(box=(822, 1362, 997, 1478), ylim=(-75, 2090), ymaj=[0, 500, 1000, 1500, 2000], ymin=None,
                xmaj=[0, 2, 4, 6], xmin=[1, 3, 5], yl=(787, 1420, 6.2), xl=(905, 1510, 6.2), xlab="Time (s)",
                amps=D_G272C_AMP, taus=0.06,
                shape=dict(on=0.6, off=4.6, end=5.6, tail=0.12, ttau=1.0)),
         e=dict(box=(1054, 1369, 1227, 1484), xlim=(4.586, 5.2), ylim=(-1000, 105), ymaj=[0, -500, -1000],
                T=E_G272C_T, Y=E_G272C_Y, yl=(1015, 1428, 6.0), xl=(1133, 1508, 6.0)),
         f=dict(box=(1282, 1369, 1362, 1483), bar=(1324, 37), ylim=(0, 1.0),
                ymaj=[0, 0.2, 0.4, 0.6, 0.8, 1.0], fmt="%.1f", pts=F_PTS_G272C,
                off=[0, 0, -0.055, 0.055, 0, 0], ylabel="Peak Tail current\nML277/Control",
                yl=(1253, 1425, 5.6), pad=17)),
]

# ===================== DRAW =====================
for col, x in zip("abcdef", [78, 320, 568, 785, 1003, 1244]):
    ftxt(x, 22, col, fontsize=20, fontweight="bold", family=["Liberation Sans", "DejaVu Sans"])

for ri, row in enumerate(ROWS):
    ftxt(38, row["lab_y"], row["name"], fontsize=14, fontweight="normal")

    # ---------- column a ----------
    p = row["a"]
    ax = add_box(p["box"])
    style(ax, center=True)
    ax.set_xlim(-100, 100)
    ax.set_ylim(*p["ylim"])
    for v, mval, e, colr, fit in [(p["vc"], p["c"], p["ce"], BLUE, p["fc"]),
                                   (p["vm"], p["m"], p["me"], RED, p["fm"])]:
        errbars(ax, v, mval, e, colr)
        sns.scatterplot(x=v, y=mval, ax=ax, color=colr, s=14, edgecolor="none", legend=False,
                        zorder=3, clip_on=False)
        if fit is not None:
            vf = np.linspace(min(v), min(max(v), p.get("fitmax", 80)), 200)
            sns.lineplot(x=vf, y=boltz(vf, fit), ax=ax, color=colr, lw=1.2, legend=False, zorder=2)
    set_ticks(ax, "x", [-80, -40, 0, 40, 80], [-100, -60, -20, 20, 60, 100], "%d")
    if ri == 0:
        set_ticks(ax, "y", p["ymaj"], None, "%.1f")
        hs = [Line2D([], [], color=c, marker="o", ms=3.8, lw=0) for c in (BLUE, RED)]
        legend(ax, hs, list(p["labels"]), *p["leg"], fs=p["legfs"], hl=1.0, sp=0.5)
    else:
        set_ticks(ax, "y", [0.5, 1.0], [0.25, 0.75], "%.1f")
        hs = [Line2D([], [], color=c, marker="o", ms=3.8, lw=1.2) for c in (BLUE, RED)]
        legend(ax, hs, ["Control", "ML277"], *p["leg"], fs=7.2, hl=2.0, sp=0.55)
    ftxt(p["yl"][0], p["yl"][1], p["ylabel"], rotation=90, fontsize=p["yl"][2], fontweight="bold")
    ftxt(p["xl"][0], p["xl"][1], "Voltage (mV)", fontsize=p["xl"][2], fontweight="bold")

    # ---------- column b ----------
    p = row["b"]
    ax = add_box(p["box"])
    style(ax, center=True)
    ax.set_xlim(*p["xlim"])
    ax.set_ylim(*p["ylim"])
    mk_m = "s" if p.get("square") else "o"
    for v, mval, e, colr, mk, sz in [(p["vc"], p["c"], p["ce"], BLUE, "o", 14),
                                      (p["vm"], p["m"], p["me"], RED, mk_m, 20 if mk_m == "s" else 14)]:
        errbars(ax, v, mval, e, colr)
        sns.scatterplot(x=v, y=mval, ax=ax, color=colr, s=sz, marker=mk, edgecolor="none", legend=False,
                        zorder=3, clip_on=False)
    set_ticks(ax, "x", p.get("xmaj", [-80, -40, 0, 40, 80]),
              p.get("xmin", [-100, -60, -20, 20, 60, 100]) or [], "%d")
    set_ticks(ax, "y", p["ymaj"], p["ymin"] or [], "%d")
    hs = [Line2D([], [], color=BLUE, marker="o", ms=3.8, lw=0),
          Line2D([], [], color=RED, marker=mk_m, ms=4.5 if mk_m == "s" else 3.8, lw=0)]
    legend(ax, hs, ["Control", "ML277"], *p["leg"], fs=p.get("legfs", 7.2), hl=1.0, sp=0.55)
    ftxt(p["yl"][0], p["yl"][1], p["ylabel"], rotation=90, fontsize=p["yl"][2], fontweight="bold")
    ftxt(p["xl"][0], p["xl"][1], "Voltage (mV)", fontsize=p["xl"][2], fontweight="bold")

    # ---------- columns c and d ----------
    for key in ("c", "d"):
        p = row[key]
        ax = add_box(p["box"])
        style(ax, ls=5.6)
        draw_traces(ax, p["amps"], p["shape"], peaks=p.get("peaks"), taus=p.get("taus", 0.03),
                    lw=p.get("lw", 1.0))
        ax.set_xlim(0, 6)
        ax.set_ylim(*p["ylim"])
        if p.get("xzero"):
            ax.spines["bottom"].set_position(("data", 0))
        set_ticks(ax, "x", p["xmaj"], p["xmin"] or [], "%d")
        set_ticks(ax, "y", p["ymaj"], p["ymin"] or [], "%d")
        if "xpad" in p:
            ax.tick_params(axis="x", pad=p["xpad"], length=2)
        ftxt(p["yl"][0], p["yl"][1], "Amplitude (pA)", rotation=90, fontsize=p["yl"][2], fontweight="bold")
        ftxt(p["xl"][0], p["xl"][1], p["xlab"], fontsize=p["xl"][2], fontweight="bold")
        if "inset" in p:
            q = p["inset"]
            ai = add_box(q["box"])
            style(ai, ls=3.3)
            ai.tick_params(length=1.5, width=0.6, pad=0.8)
            for s in ("left", "bottom"):
                ai.spines[s].set_linewidth(0.7)
            draw_traces(ai, p["amps"], p["shape"], taus=p.get("taus", 0.03), lw=0.7)
            ai.set_xlim(0, 6)
            ai.set_ylim(*q["ylim"])
            ai.spines["bottom"].set_position(("data", 0))
            set_ticks(ai, "x", [2, 4, 6], [1, 3, 5], "%d")
            set_ticks(ai, "y", [0, 500, 1000], [250, 750], "%d")
            bx = q["box"]
            ftxt(bx[0] - 22, (bx[1] + bx[3]) / 2 - 6, "Amplitude (pA)", rotation=90, fontsize=3.3,
                 fontweight="bold")
            ftxt((bx[0] + bx[2]) / 2, bx[3] + 4, "Time (sec)", fontsize=3.3, fontweight="bold")

    # ---------- column e ----------
    p = row["e"]
    ax = add_box(p["box"])
    style(ax, ls=5.6)
    ax.axhline(0, color="black", lw=0.8, ls=(0, (1, 1.5)), zorder=1)
    sns.lineplot(x=p["T"], y=p["Y"], ax=ax, color=TRACE_BLUE, lw=1.1, sort=False, estimator=None,
                 legend=False, zorder=3)
    ax.set_xlim(*p["xlim"])
    ax.set_ylim(*p["ylim"])
    set_ticks(ax, "x", [4.6, 4.8, 5.0, 5.2], [4.7, 4.9, 5.1], "%.1f")
    set_ticks(ax, "y", p["ymaj"], None, "%d")
    ftxt(p["yl"][0], p["yl"][1], "Amplitude (pA)", rotation=90, fontsize=p["yl"][2], fontweight="bold")
    ftxt(p["xl"][0], p["xl"][1], "Time (s)", fontsize=p["xl"][2], fontweight="bold")

    # ---------- column f ----------
    p = row["f"]
    ax = add_box(p["box"])
    style(ax, ls=5.6)
    sns.barplot(x=[F_LABELS[ri]], y=[F_MEAN[ri]], ax=ax, color="#ffff00", saturation=1, width=0.6,
                edgecolor="#4a4a4a", linewidth=1.3, errorbar=None)
    ax.errorbar([0], [F_MEAN[ri]], yerr=[F_SEM[ri]], fmt="none", ecolor="black", elinewidth=1.2,
                capsize=4, capthick=1.2, zorder=4)
    ax.scatter(p["off"], p["pts"], s=9, color="black", zorder=5, clip_on=False)
    bc, bw = p["bar"]
    x0, _, x1, _ = p["box"]
    ax.set_xlim(-(bc - x0) / bw * 0.6, (x1 - bc) / bw * 0.6)
    ax.set_ylim(*p["ylim"])
    set_ticks(ax, "y", p["ymaj"], None, p["fmt"])
    ax.tick_params(axis="x", labelsize=5.8, pad=p["pad"])
    ftxt(p["yl"][0], p["yl"][1], p["ylabel"], rotation=90, fontsize=p["yl"][2], fontweight="bold",
         linespacing=1.05)

fig.savefig("out.png", dpi=100, facecolor="white")
